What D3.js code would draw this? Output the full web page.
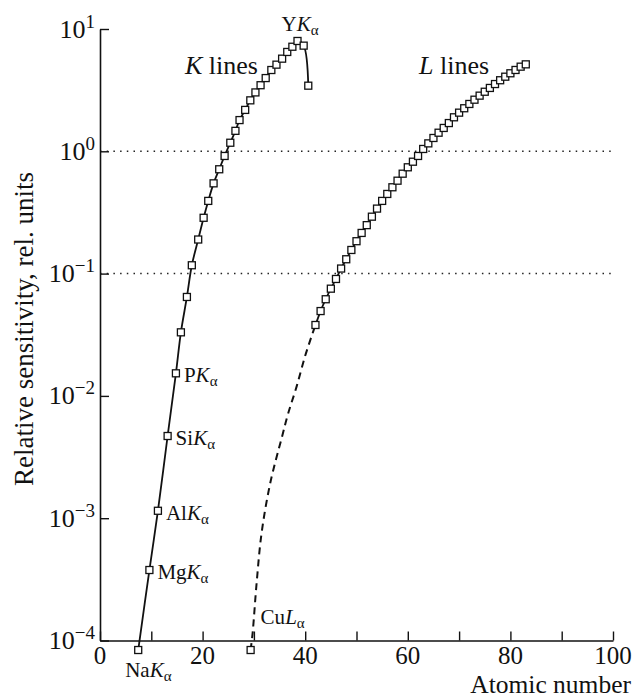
<!DOCTYPE html>
<html>
<head>
<meta charset="utf-8">
<script src="https://cdn.jsdelivr.net/npm/d3@7"></script>
<style>
  body { margin: 0; background: #fff; }
  svg text { font-family: "Liberation Serif", "Times New Roman", serif; fill: #111; }
</style>
</head>
<body>
<div id="chart"></div>
<script>
// K lines: atomic number (as plotted) and relative sensitivity
const kZ = [7.45, 9.63, 11.29, 13.18, 14.8, 15.77, 16.94, 17.9, 19.14, 20.2, 21.1, 22.14, 23.24, 24.29,
  25.4, 26.4, 27.2, 28.3, 29.3, 30.3, 31.3, 32.3, 33.4, 34.4, 35.5, 36.5, 37.5, 38.5, 39.7, 40.6];
const kVal = [8.36e-5, 3.77e-4, 1.15e-3, 4.70e-3, 0.0153, 0.0331, 0.0644, 0.117, 0.190, 0.286, 0.393, 0.547, 0.713, 0.916,
  1.175, 1.47, 1.80, 2.18, 2.61, 3.03, 3.47, 3.97, 4.62, 5.11, 5.72, 6.49, 7.16, 7.98, 7.31, 3.44];

// L lines, Z = 42..83
const lZ = d3.range(42, 84);
const lVal = [0.0380, 0.0494, 0.0617, 0.0753, 0.0904, 0.110, 0.131, 0.156, 0.184, 0.215,
  0.249, 0.292, 0.340, 0.393, 0.448, 0.508, 0.575, 0.656, 0.740, 0.822,
  0.916, 1.045, 1.161, 1.285, 1.419, 1.552, 1.702, 1.897, 2.070, 2.249,
  2.438, 2.642, 2.851, 3.069, 3.296, 3.548, 3.811, 4.074, 4.345, 4.624,
  4.920, 5.140];

// CuLa point and the dashed extrapolation up to the first L point
const cuZ = 29.36, cuVal = 8.36e-5;
const dashZ = [29.36, 29.75, 30.53, 31.5, 33.2, 35.4, 36.69, 38.32, 39.94, 41.44, 42];
const dashVal = [8.36e-5, 1.15e-4, 2.95e-4, 7.57e-4, 1.95e-3, 4.5e-3, 7.21e-3, 0.0119, 0.0209, 0.0325, 0.0380];

// element labels: index into kZ (or "cu"), element, line
const pointLabels = [
  { at: 0, el: "Na", line: "K" },
  { at: 1, el: "Mg", line: "K" },
  { at: 2, el: "Al", line: "K" },
  { at: 3, el: "Si", line: "K" },
  { at: 4, el: "P", line: "K" },
  { at: 27, el: "Y", line: "K" },
  { at: "cu", el: "Cu", line: "L" }
];

const xTicks = d3.range(0, 101, 10);
const xLabels = [0, 20, 40, 60, 80, 100];
const yTicks = [1e-4, 1e-3, 1e-2, 1e-1, 1, 10];
const gridVals = [0.1, 1];

const W = 634, H = 698;
const svg = d3.select("#chart").append("svg").attr("width", W).attr("height", H);

const x = d3.scaleLinear().domain([0, 100]).range([100, 613]);
const y = d3.scaleLog().domain([1e-4, 10]).range([640.5, 29]);

// dotted grid lines
svg.selectAll(".grid").data(gridVals).enter().append("line")
  .attr("x1", x(0)).attr("x2", x(100))
  .attr("y1", d => y(d)).attr("y2", d => y(d))
  .attr("stroke", "#222").attr("stroke-width", 1.5)
  .attr("stroke-dasharray", "1.5,5.2");

// axes
const xAxis = svg.append("g").attr("transform", "translate(0," + y(1e-4) + ")")
  .call(d3.axisBottom(x).tickValues(xTicks).tickSize(-9).tickSizeOuter(0).tickFormat(""));
const yAxis = svg.append("g").attr("transform", "translate(" + x(0) + ",0)")
  .call(d3.axisRight(y).tickValues(yTicks).tickSize(9).tickSizeOuter(0).tickFormat(""));
[xAxis, yAxis].forEach(g => {
  g.select(".domain").attr("stroke", "#111").attr("stroke-width", 1.6);
  g.selectAll(".tick line").attr("stroke", "#111").attr("stroke-width", 1.4);
});

// x tick labels
svg.selectAll(".xlab").data(xLabels).enter().append("text")
  .attr("x", d => x(d)).attr("y", y(1e-4) + 23.5)
  .attr("text-anchor", "middle").style("font-size", "25px")
  .text(d => d);

// y tick labels 10^n
const yl = svg.selectAll(".ylab").data(yTicks).enter().append("text")
  .attr("x", x(0) - 5).attr("y", d => y(d) + 8.5)
  .attr("text-anchor", "end").style("font-size", "26px");
yl.append("tspan").text("10");
yl.append("tspan").attr("dy", -10).style("font-size", "19px")
  .text(d => { const e = Math.round(Math.log10(d)); return e < 0 ? "\u2212" + (-e) : String(e); });

// axis titles
svg.append("text").attr("x", 631).attr("y", 692.5).attr("text-anchor", "end")
  .style("font-size", "25.5px").text("Atomic number");
svg.append("text").attr("transform", "translate(33," + 329 + ") rotate(-90)")
  .attr("text-anchor", "middle").style("font-size", "27px")
  .text("Relative sensitivity, rel. units");

// curves
const line = d3.line().x(d => x(d[0])).y(d => y(d[1])).curve(d3.curveMonotoneX);
const smooth = d3.line().x(d => x(d[0])).y(d => y(d[1])).curve(d3.curveCatmullRom);
const kPts = kZ.map((z, i) => [z, kVal[i]]);
const lPts = lZ.map((z, i) => [z, lVal[i]]);
const dPts = dashZ.map((z, i) => [z, dashVal[i]]);

svg.append("path").attr("d", smooth(kPts))
  .attr("fill", "none").attr("stroke", "#111").attr("stroke-width", 1.8);
svg.append("path").attr("d", line(lPts))
  .attr("fill", "none").attr("stroke", "#111").attr("stroke-width", 1.8);
svg.append("path").attr("d", smooth(dPts))
  .attr("fill", "none").attr("stroke", "#111").attr("stroke-width", 2)
  .attr("stroke-dasharray", "7,5");

// markers
const s = 7;
svg.selectAll(".mk").data(kPts.concat(lPts, [[cuZ, cuVal]])).enter().append("rect")
  .attr("x", d => x(d[0]) - s / 2).attr("y", d => y(d[1]) - s / 2)
  .attr("width", s).attr("height", s)
  .attr("fill", "#fff").attr("stroke", "#111").attr("stroke-width", 1.3);

// point labels
const offsets = { Na: [-13, 27], Cu: [10, -26], Y: [-16, -9.5] };
pointLabels.forEach(p => {
  const pz = p.at === "cu" ? cuZ : kZ[p.at];
  const pv = p.at === "cu" ? cuVal : kVal[p.at];
  const off = offsets[p.el] || [8, 9];
  const t = svg.append("text").attr("x", x(pz) + off[0]).attr("y", y(pv) + off[1])
    .style("font-size", "21px");
  t.append("tspan").text(p.el);
  t.append("tspan").style("font-style", "italic").text(p.line);
  t.append("tspan").attr("dy", 4).style("font-size", "15px").text("\u03b1");
});

// series labels
[["K", 185], ["L", 419]].forEach(([l, px]) => {
  const t = svg.append("text").attr("x", px).attr("y", 74).style("font-size", "26px");
  t.append("tspan").style("font-style", "italic").text(l);
  t.append("tspan").text(" lines");
});
</script>
</body>
</html>
